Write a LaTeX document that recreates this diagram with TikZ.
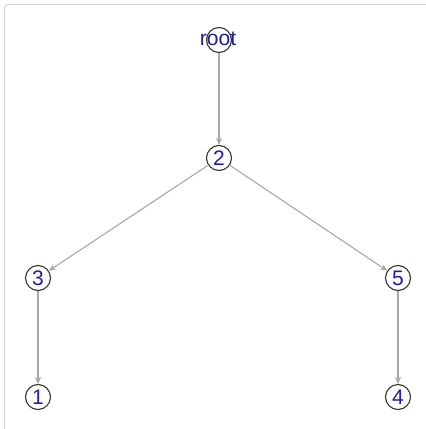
\documentclass[tikz,border=0pt]{standalone}
\usepackage{fontspec}
\setmainfont{Liberation Sans}
\usetikzlibrary{arrows.meta}
\definecolor{lbl}{HTML}{1F1F99}
\definecolor{edge}{HTML}{A8A8A8}
\definecolor{frame}{HTML}{D6D6D6}
\begin{document}
\begin{tikzpicture}[x=1pt,y=-1pt,
  vert/.style={circle,draw=black!80,line width=1.1pt,minimum size=25pt,inner sep=0pt,
    font=\fontsize{21}{21}\selectfont,text=lbl},
  conn/.style={draw=edge,line width=1.1pt,-{Stealth[length=7pt,width=6pt]}}]
\useasboundingbox (0,0) rectangle (426,429);
\begin{scope}
\clip (0,0) rectangle (426,429);
\draw[frame,line width=1pt,rounded corners=4pt] (4.5,4.5) rectangle (450,450);
\end{scope}
\node[vert] (root) at (219,40) {};
\node[font=\fontsize{21}{21}\selectfont,text=lbl] (rootlbl) at (218,39) {root};
\node[vert] (n2) at (219,158) {2};
\node[vert] (n3) at (38,278) {3};
\node[vert] (n5) at (398,278) {5};
\node[vert] (n1) at (38,397) {1};
\node[vert] (n4) at (398,397) {4};
\path[conn] (root) -- (n2);
\path[conn] (n2) -- (n3);
\path[conn] (n2) -- (n5);
\path[conn] (n3) -- (n1);
\path[conn] (n5) -- (n4);
\end{tikzpicture}
\end{document}
